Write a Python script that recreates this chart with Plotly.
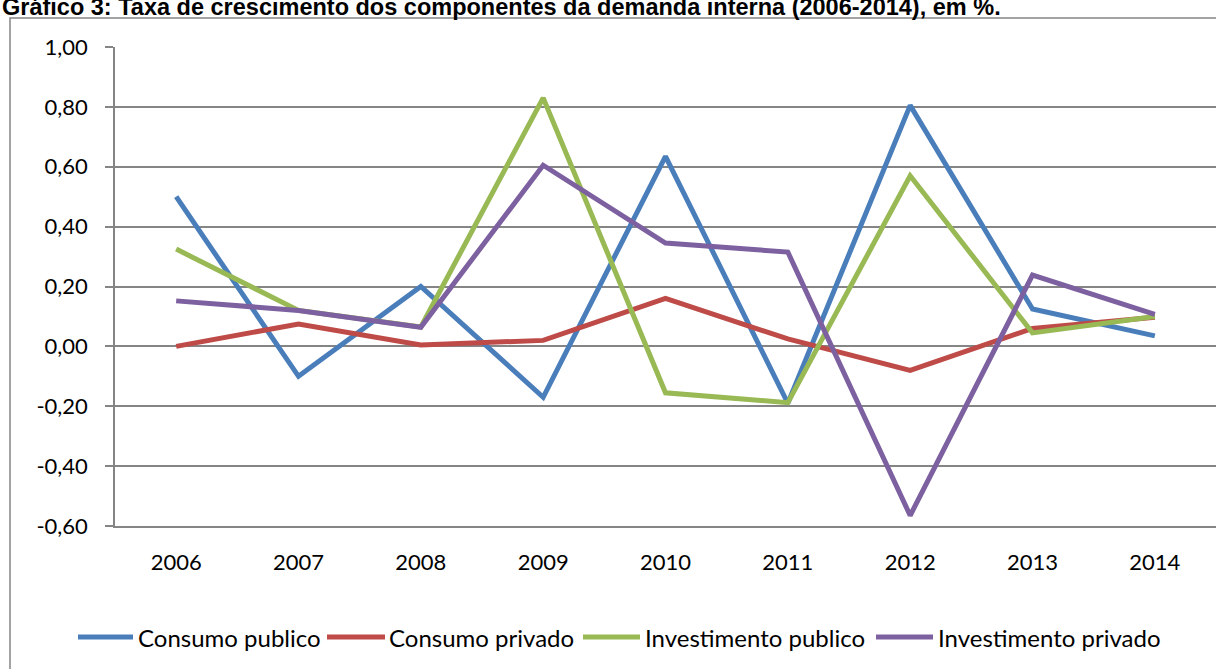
import plotly.graph_objects as go

# Annual growth rates of domestic demand components, 2006-2014
anos = ["2006", "2007", "2008", "2009", "2010", "2011", "2012", "2013", "2014"]
consumo_publico = [0.50, -0.10, 0.20, -0.17, 0.635, -0.19, 0.805, 0.125, 0.035]
consumo_privado = [0.00, 0.075, 0.005, 0.02, 0.16, 0.025, -0.08, 0.06, 0.097]
investimento_publico = [0.325, 0.12, 0.065, 0.83, -0.155, -0.188, 0.57, 0.045, 0.10]
investimento_privado = [0.152, 0.12, 0.064, 0.605, 0.345, 0.315, -0.565, 0.238, 0.107]

serie_nomes = ["Consumo publico", "Consumo privado", "Investimento publico", "Investimento privado"]
serie_valores = [consumo_publico, consumo_privado, investimento_publico, investimento_privado]
serie_cores = ["#4A7EBB", "#BE4B48", "#98B954", "#7D60A0"]

y_ticks = [-0.6, -0.4, -0.2, 0.0, 0.2, 0.4, 0.6, 0.8, 1.0]
y_labels = ["-0,60", "-0,40", "-0,20", "0,00", "0,20", "0,40", "0,60", "0,80", "1,00"]

W, H = 1216, 669
ML, MR, MT, MB = 115, 0, 47, 143
FONT = "Lato"
GRID = "#858585"


def px_x(px):
    return (px - ML) / (W - ML - MR)


def px_y(py):
    return (H - MB - py) / (H - MT - MB)


fig = go.Figure()
for nome, vals, cor in zip(serie_nomes, serie_valores, serie_cores):
    fig.add_trace(go.Scatter(
        x=anos, y=vals, name=nome, mode="lines",
        line=dict(color=cor, width=5),
        showlegend=False,
    ))

shapes = [
    # outer chart frame
    dict(type="rect", xref="paper", yref="paper",
         x0=px_x(10), x1=px_x(1230), y0=px_y(700), y1=px_y(18),
         line=dict(color=GRID, width=1.5), fillcolor="rgba(0,0,0,0)", layer="below"),
]
annotations = [
    dict(text="<b>Gráfico 3: Taxa de crescimento dos componentes da demanda interna (2006-2014), em %.</b>",
         xref="paper", yref="paper", x=px_x(0), y=px_y(22), xanchor="left", yanchor="bottom",
         showarrow=False, font=dict(family="Liberation Sans", size=23.5, color="#000000")),
]

# legend: swatch line + label per series
leg_y = 637
leg_swatch = [(78, 133), (327, 385), (583, 640), (876, 933)]
leg_text_x = [136, 387, 643, 936]
for nome, cor, (a, b), tx in zip(serie_nomes, serie_cores, leg_swatch, leg_text_x):
    shapes.append(dict(type="line", xref="paper", yref="paper",
                       x0=px_x(a), x1=px_x(b), y0=px_y(leg_y), y1=px_y(leg_y),
                       line=dict(color=cor, width=5)))
    annotations.append(dict(text=nome, xref="paper", yref="paper",
                            x=px_x(tx), y=px_y(leg_y), xanchor="left", yanchor="middle",
                            showarrow=False, font=dict(family=FONT, size=24, color="#000000")))

fig.update_layout(
    width=W, height=H,
    margin=dict(l=ML, r=MR, t=MT, b=MB, pad=0),
    paper_bgcolor="white", plot_bgcolor="white",
    shapes=shapes, annotations=annotations,
    xaxis=dict(
        type="category", range=[-0.5, 8.5], showgrid=False,
        showline=True, linecolor=GRID, linewidth=1.5,
        ticks="", ticklabelstandoff=16,
        tickfont=dict(family=FONT, size=22, color="#000000"),
        zeroline=False, fixedrange=True,
    ),
    yaxis=dict(
        range=[-0.6, 1.0], tickvals=y_ticks, ticktext=y_labels,
        showgrid=True, gridcolor=GRID, gridwidth=1.5,
        showline=True, linecolor=GRID, linewidth=1.5,
        ticks="outside", ticklen=8, tickcolor=GRID, tickwidth=1.5,
        ticklabelstandoff=13,
        tickfont=dict(family=FONT, size=22, color="#000000"),
        zeroline=False, fixedrange=True,
    ),
)

fig.write_html("out.html")
